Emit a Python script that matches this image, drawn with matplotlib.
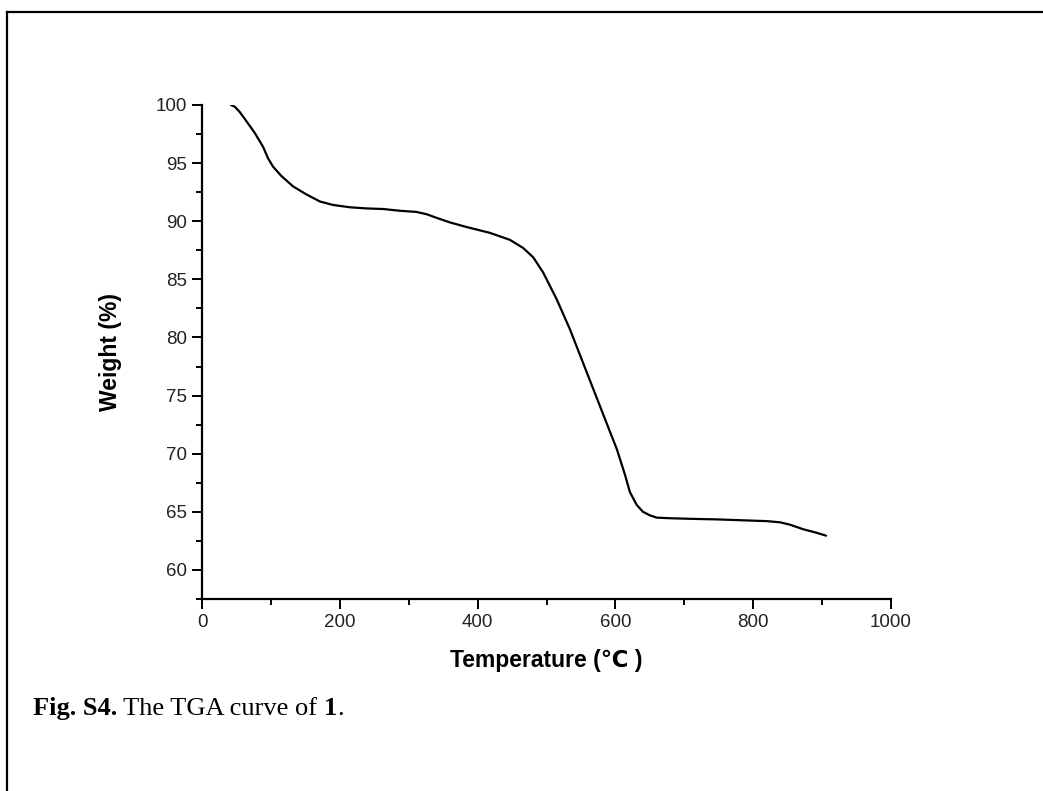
import matplotlib
matplotlib.use("Agg")
import matplotlib.pyplot as plt
from matplotlib.lines import Line2D
from matplotlib.ticker import MultipleLocator

# TGA curve
temperature = [42, 47.5, 54.7, 64.5, 76.5, 88.6, 95.9, 103, 115, 132, 151.6, 171,
               190, 214.5, 238.7, 262.8, 287, 311, 326, 340, 359.6, 384, 417.7,
               446.8, 466, 480.6, 495, 514.6, 534, 563, 592, 602, 613.8, 621,
               630.8, 640, 650, 660, 679, 708, 747, 819.6, 838.8, 853, 872.7,
               892, 905.6]
weight = [100.0, 99.85, 99.4, 98.6, 97.6, 96.4, 95.4, 94.7, 93.9, 93.0, 92.3, 91.7,
          91.4, 91.2, 91.1, 91.05, 90.9, 90.8, 90.6, 90.3, 89.9, 89.5, 89.0,
          88.4, 87.7, 86.9, 85.6, 83.3, 80.7, 76.3, 71.9, 70.4, 68.2, 66.7,
          65.6, 65.0, 64.7, 64.5, 64.45, 64.4, 64.35, 64.2, 64.1, 63.9, 63.5,
          63.2, 62.95]

x_ticks = [0, 200, 400, 600, 800, 1000]
y_ticks = [60, 65, 70, 75, 80, 85, 90, 95, 100]

SANS = ["Liberation Sans", "DejaVu Sans"]
SERIF = ["Liberation Serif", "DejaVu Serif"]

fig = plt.figure(figsize=(10.43, 7.91), dpi=100)
ax = fig.add_axes([0.1937, 0.2427, 0.6606, 0.6246])

ax.plot(temperature, weight, color="black", lw=1.6, solid_capstyle="round",
        solid_joinstyle="round")

ax.set_xlim(0, 1000)
ax.set_ylim(57.5, 100)
ax.set_xticks(x_ticks)
ax.set_yticks(y_ticks)
ax.xaxis.set_minor_locator(MultipleLocator(100))
ax.yaxis.set_minor_locator(MultipleLocator(2.5))

for side in ("top", "right"):
    ax.spines[side].set_visible(False)
for side in ("left", "bottom"):
    ax.spines[side].set_linewidth(1.6)

ax.tick_params(which="major", direction="out", length=7, width=1.4, pad=4,
               labelsize=13.5, colors="black")
ax.tick_params(which="minor", direction="out", length=4, width=1.4)
for lab in ax.get_xticklabels() + ax.get_yticklabels():
    lab.set_family(SANS)
    lab.set_color("#222222")

ax.set_xlabel("Temperature (℃ )", fontsize=16.5, fontweight="bold", family=SANS, labelpad=13)
ax.set_ylabel("Weight (%)", fontsize=16.5, fontweight="bold", family=SANS, labelpad=24)

# page frame lines (top and left only)
fig.add_artist(Line2D([7 / 1043, 1.0], [1 - 11.5 / 791, 1 - 11.5 / 791],
                      transform=fig.transFigure, color="black", lw=1.6))
fig.add_artist(Line2D([7 / 1043, 7 / 1043], [0.0, 1 - 11.5 / 791],
                      transform=fig.transFigure, color="black", lw=1.6))

# caption with mixed bold / regular parts
renderer = fig.canvas.get_renderer()
parts = [("Fig. S4.", "bold"), (" The TGA curve of ", "normal"), ("1", "bold"), (".", "normal")]
x0 = 33 / 1043
y0 = 1 - 715 / 791
for txt, weight_style in parts:
    t = fig.text(x0, y0, txt, fontsize=19, fontweight=weight_style, family=SERIF,
                 ha="left", va="baseline")
    bb = t.get_window_extent(renderer=renderer)
    x0 = fig.transFigure.inverted().transform((bb.x1, bb.y0))[0]

fig.savefig("out.png", dpi=100, facecolor="white")
